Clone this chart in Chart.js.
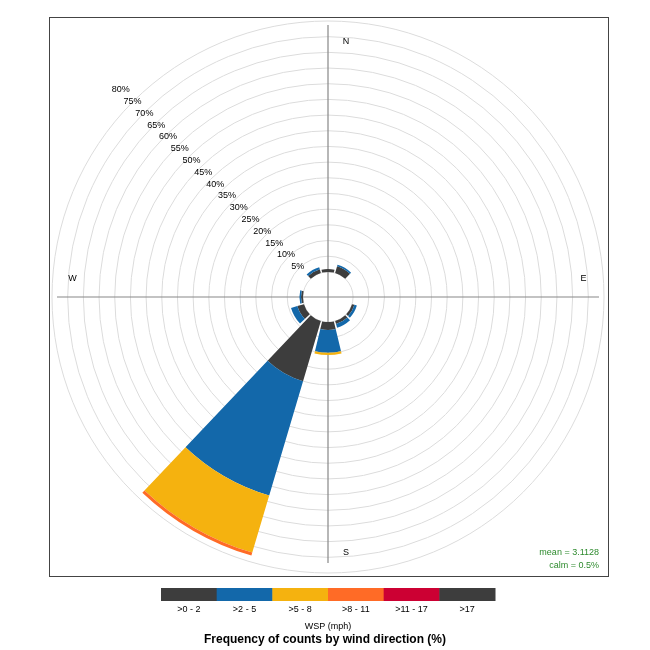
<!DOCTYPE html>
<html><head><meta charset="utf-8">
<script src="https://cdn.jsdelivr.net/npm/chart.js@4/dist/chart.umd.min.js"></script>
<style>
body{margin:0;background:#fff;font-family:"Liberation Sans",Arial,sans-serif;}
#wrap{position:relative;width:650px;height:650px;}
canvas{position:absolute;left:0;top:0;}
</style></head><body>
<div id="wrap"><canvas id="c" width="650" height="650"></canvas></div>
<script>
const directions = [0,30,60,90,120,150,180,210,240,270,300,330];
const bin1 = [0.9,2.2,0,0,0.8,1.0,2.5,20,2.2,0.6,0,1.2];
const bin2 = [0,0.5,0,0,0.8,1.2,7.3,38,2.1,0.5,0,0.7];
const bin3 = [0,0,0,0,0,0,0.7,19,0,0,0,0];
const bin4 = [0,0,0,0,0,0,0,1,0,0,0,0];
const bin5 = [0,0,0,0,0,0,0,0,0,0,0,0];
const bin6 = [0,0,0,0,0,0,0,0,0,0,0,0];
const binLabels = [">0 - 2",">2 - 5",">5 - 8",">8 - 11",">11 - 17",">17"];
const binColors = ["#3d3d3d","#1368aa","#f5b20f","#ff6b26","#cc0033","#3d3d3d"];
const ringTicks = [0,5,10,15,20,25,30,35,40,45,50,55,60,65,70,75,80];
const compass = [["N",0],["E",90],["S",180],["W",270]];
const bins = [bin1,bin2,bin3,bin4,bin5,bin6];

const rosePlugin = {
  id:'rose',
  beforeDatasetsDraw(chart){
    const ctx=chart.ctx, s=chart.scales.r, cx=s.xCenter, cy=s.yCenter;
    const R=s.getDistanceFromCenterForValue(80);
    const r0v=s.getDistanceFromCenterForValue(0);
    ctx.save();
    ctx.strokeStyle='#888'; ctx.lineWidth=1.2;
    ctx.beginPath(); ctx.moveTo(cx, cy-R+4); ctx.lineTo(cx, cy+R-10);
    ctx.moveTo(cx-R+5, cy); ctx.lineTo(cx+R-5, cy); ctx.stroke();
    const half=13.5*Math.PI/180;
    directions.forEach((d,i)=>{
      let cum=0;
      const a=(d-90)*Math.PI/180;
      bins.forEach((b,k)=>{
        const v=b[i]; if(!v) return;
        const r0=s.getDistanceFromCenterForValue(cum);
        cum+=v;
        const r1=s.getDistanceFromCenterForValue(cum);
        ctx.beginPath();
        ctx.arc(cx,cy,r1,a-half,a+half);
        ctx.arc(cx,cy,r0,a+half,a-half,true);
        ctx.closePath();
        ctx.fillStyle=binColors[k]; ctx.fill();
      });
    });
    ctx.fillStyle='#000'; ctx.font='9px "Liberation Sans",Arial'; ctx.textAlign='center'; ctx.textBaseline='middle';
    const t=-135*Math.PI/180;
    ringTicks.forEach(v=>{ if(!v) return;
      const rr=s.getDistanceFromCenterForValue(v);
      const r=rr+(rr-r0v)*0.064+1;
      ctx.fillText(v+'%', cx+r*Math.cos(t), cy+r*Math.sin(t));
    });
    const lr=s.getDistanceFromCenterForValue(73.5);
    compass.forEach(([l,d])=>{
      const a=(d-90)*Math.PI/180;
      let x=cx+lr*Math.cos(a), y=cy+lr*Math.sin(a);
      if(l==='N'||l==='S') x+=18; else y-=18;
      ctx.fillText(l,x,y);
    });
    ctx.restore();
  },
  afterDraw(chart){
    const ctx=chart.ctx;
    ctx.save();
    ctx.strokeStyle='#444'; ctx.lineWidth=1;
    ctx.strokeRect(49.5,17.5,559,559);
    ctx.fillStyle='#2e8b2e'; ctx.font='9px "Liberation Sans",Arial'; ctx.textAlign='right'; ctx.textBaseline='middle';
    ctx.fillText('mean = 3.1128',599,553); ctx.fillText('calm = 0.5%',599,566);
    const x0=161, w=(495-161)/6;
    binLabels.forEach((l,k)=>{
      ctx.fillStyle=binColors[k]; ctx.fillRect(x0+k*w,588,w+0.5,13);
      ctx.fillStyle='#000'; ctx.textAlign='center'; ctx.font='9px "Liberation Sans",Arial';
      ctx.fillText(l,x0+k*w+w/2,610);
    });
    ctx.fillText('WSP (mph)',328,627);
    ctx.font='bold 12px "Liberation Sans",Arial';
    ctx.fillText('Frequency of counts by wind direction (%)',325,640);
    ctx.restore();
  }
};

new Chart(document.getElementById('c'),{
  type:'radar',
  data:{labels:directions.map(String),datasets:[{data:bin1.map(()=>0),borderWidth:0,pointRadius:0,backgroundColor:'transparent'}]},
  options:{responsive:false,animation:false,
    layout:{padding:{left:52,right:46,top:21,bottom:77}},
    plugins:{legend:{display:false},tooltip:{enabled:false}},
    scales:{r:{min:-8,max:80,
      afterBuildTicks(sc){sc.ticks=ringTicks.map(v=>({value:v}));},
      ticks:{display:false},
      grid:{circular:true,color:'#dcdcdc',lineWidth:1},
      angleLines:{display:false},
      pointLabels:{display:false}}}},
  plugins:[rosePlugin]
});
</script></body></html>
